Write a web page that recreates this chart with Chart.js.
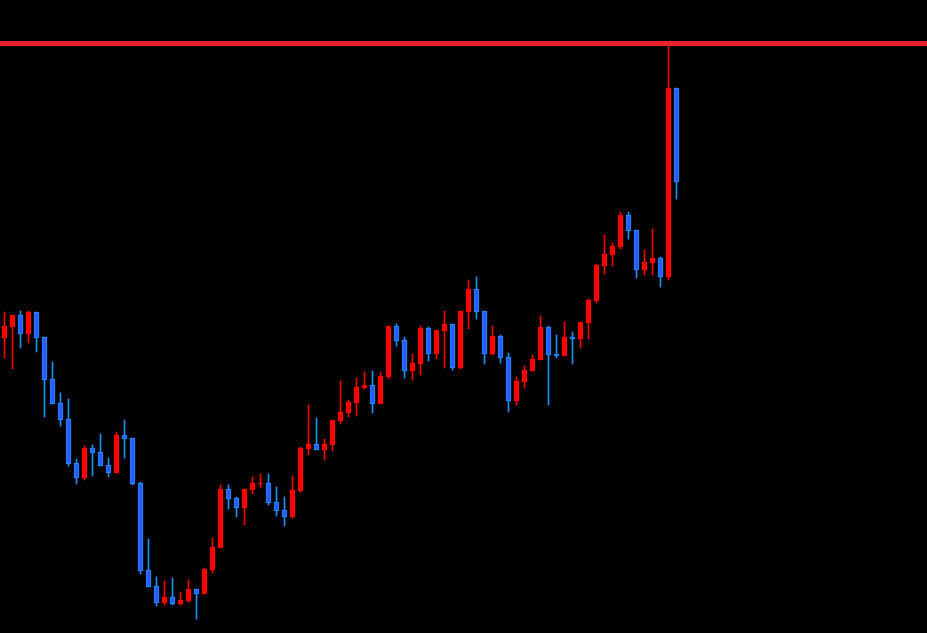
<!DOCTYPE html>
<html>
<head>
<meta charset="utf-8">
<script src="https://cdn.jsdelivr.net/npm/chart.js@4.4.1/dist/chart.umd.min.js"></script>
<style>
    html, body { margin: 0; padding: 0; background: #000; overflow: hidden; }
    #wrap { width: 927px; height: 633px; position: relative; }
</style>
</head>
<body>
<div id="wrap"><canvas id="chart"></canvas></div>
<script>
// OHLC per candle
const open = [1966.2, 1967.3, 1968.5, 1966.6, 1968.8, 1966.3, 1962.1, 1959.7, 1958.1, 1953.7,
    1952.2, 1955.2, 1954.8, 1953.5, 1952.7, 1956.5, 1956.2, 1951.7, 1943.0, 1941.4,
    1939.7, 1940.3, 1939.6, 1939.9, 1941.1, 1940.6, 1943.0, 1945.2, 1951.1, 1950.2,
    1949.2, 1951.0, 1951.6, 1951.7, 1949.8, 1949.0, 1948.3, 1950.9, 1955.1, 1955.6,
    1955.0, 1955.5, 1957.9, 1958.7, 1959.7, 1961.2, 1961.5, 1959.6, 1962.3, 1967.4,
    1966.0, 1962.9, 1963.6, 1967.2, 1964.6, 1966.9, 1967.6, 1963.2, 1968.8, 1971.1,
    1968.9, 1964.6, 1966.4, 1964.3, 1959.9, 1961.8, 1962.9, 1964.0, 1967.3, 1964.6,
    1964.4, 1966.3, 1966.1, 1967.7, 1969.9, 1973.4, 1974.5, 1975.3, 1978.5, 1977.0,
    1973.0, 1973.7, 1974.2, 1972.3, 1991.2];
const high = [1968.8, 1968.5, 1968.9, 1968.9, 1968.8, 1966.3, 1963.8, 1960.7, 1960.1, 1954.1,
    1955.4, 1955.5, 1956.6, 1954.2, 1956.8, 1958.0, 1956.2, 1951.8, 1946.1, 1942.3,
    1941.9, 1942.2, 1940.8, 1942.0, 1941.1, 1943.2, 1946.2, 1951.5, 1951.5, 1950.3,
    1951.1, 1952.3, 1952.6, 1952.6, 1951.3, 1950.3, 1952.4, 1955.3, 1959.5, 1958.2,
    1956.1, 1958.0, 1961.9, 1960.0, 1962.2, 1962.8, 1962.9, 1962.8, 1967.4, 1967.6,
    1966.3, 1964.6, 1967.4, 1967.3, 1967.0, 1968.9, 1967.6, 1968.9, 1972.0, 1972.3,
    1968.9, 1967.4, 1966.5, 1964.7, 1962.3, 1963.4, 1964.5, 1968.4, 1967.4, 1966.5,
    1967.8, 1966.8, 1967.8, 1970.1, 1973.6, 1976.5, 1975.7, 1978.8, 1978.8, 1977.0,
    1975.0, 1977.1, 1974.3, 1995.5, 1991.2];
const low = [1964.2, 1963.1, 1965.2, 1965.7, 1964.8, 1958.3, 1959.6, 1957.4, 1953.4, 1951.6,
    1952.0, 1952.4, 1953.4, 1952.3, 1952.7, 1954.2, 1951.5, 1942.6, 1941.3, 1939.4,
    1939.5, 1939.5, 1939.5, 1939.8, 1938.1, 1940.6, 1942.7, 1945.2, 1949.1, 1948.3,
    1947.5, 1950.6, 1951.2, 1949.5, 1948.4, 1947.4, 1948.2, 1950.8, 1954.5, 1955.0,
    1954.0, 1954.9, 1957.6, 1958.3, 1958.4, 1961.1, 1958.7, 1959.6, 1962.1, 1965.4,
    1962.2, 1962.0, 1962.5, 1963.9, 1964.1, 1963.2, 1963.0, 1963.1, 1967.1, 1968.1,
    1963.6, 1964.5, 1963.7, 1958.8, 1959.5, 1961.2, 1962.9, 1964.0, 1959.5, 1964.2,
    1964.4, 1963.6, 1965.2, 1966.1, 1969.7, 1972.6, 1973.4, 1975.1, 1976.1, 1972.2,
    1972.5, 1972.5, 1971.3, 1972.0, 1980.1];
const close = [1967.4, 1968.5, 1966.6, 1968.8, 1966.2, 1962.0, 1959.6, 1958.0, 1953.6, 1952.2,
    1955.2, 1954.7, 1953.4, 1952.7, 1956.5, 1956.1, 1951.6, 1942.9, 1941.3, 1939.7,
    1940.3, 1939.6, 1940.0, 1941.1, 1940.6, 1943.1, 1945.3, 1951.1, 1950.1, 1949.2,
    1951.1, 1951.7, 1951.7, 1949.7, 1948.9, 1948.3, 1951.0, 1955.2, 1955.6, 1955.0,
    1955.6, 1958.0, 1958.8, 1959.8, 1961.3, 1961.5, 1959.6, 1962.4, 1967.4, 1965.9,
    1962.9, 1963.7, 1967.2, 1964.6, 1967.0, 1967.6, 1963.2, 1968.9, 1971.1, 1968.8,
    1964.6, 1966.4, 1964.2, 1959.9, 1961.9, 1963.0, 1964.1, 1967.3, 1964.5, 1964.4,
    1966.3, 1966.1, 1967.8, 1970.0, 1973.5, 1974.6, 1975.4, 1978.5, 1976.9, 1973.0,
    1973.8, 1974.2, 1972.3, 1991.2, 1981.8];

// horizontal resistance level
const resistanceLevel = 1995.65;

// visible price window and bar slots
const priceMin = 1936.7;
const priceMax = 2000;
const slotMin = -0.5625;
const slotMax = 115.3125;

const UP = '#ff0000';
const DOWN_FILL = '#2b5cff';
const DOWN_EDGE = '#1e90ff';

const isUp = open.map((o, i) => close[i] >= o);

const wicks = high.map((h, i) => ({ x: i, y: [low[i], h] }));
const bodies = open.map((o, i) => ({ x: i, y: [Math.min(o, close[i]), Math.max(o, close[i])] }));

const data = {
    datasets: [
        {
            type: 'line',
            data: [{ x: slotMin - 1, y: resistanceLevel }, { x: slotMax + 1, y: resistanceLevel }],
            borderColor: '#e8232b',
            borderWidth: 5,
            pointRadius: 0,
            order: 0,
        },
        {
            data: bodies,
            backgroundColor: isUp.map(u => u ? UP : DOWN_FILL),
            borderColor: isUp.map(u => u ? UP : DOWN_EDGE),
            borderWidth: 1,
            borderSkipped: false,
            barThickness: 5,
            minBarLength: 1,
            grouped: false,
            order: 1,
        },
        {
            data: wicks,
            backgroundColor: isUp.map(u => u ? UP : DOWN_EDGE),
            borderWidth: 0,
            barThickness: 1,
            grouped: false,
            order: 2,
        },
    ]
};

const config = {
    type: 'bar',
    data: data,
    options: {
        responsive: true,
        maintainAspectRatio: false,
        animation: false,
        devicePixelRatio: 1,
        layout: { padding: 0 },
        plugins: {
            legend: { display: false },
            tooltip: { enabled: false },
        },
        scales: {
            x: { type: 'linear', display: false, min: slotMin, max: slotMax, offset: false },
            y: { display: false, min: priceMin, max: priceMax },
        }
    }
};

new Chart(document.getElementById('chart'), config);
</script>
</body>
</html>
